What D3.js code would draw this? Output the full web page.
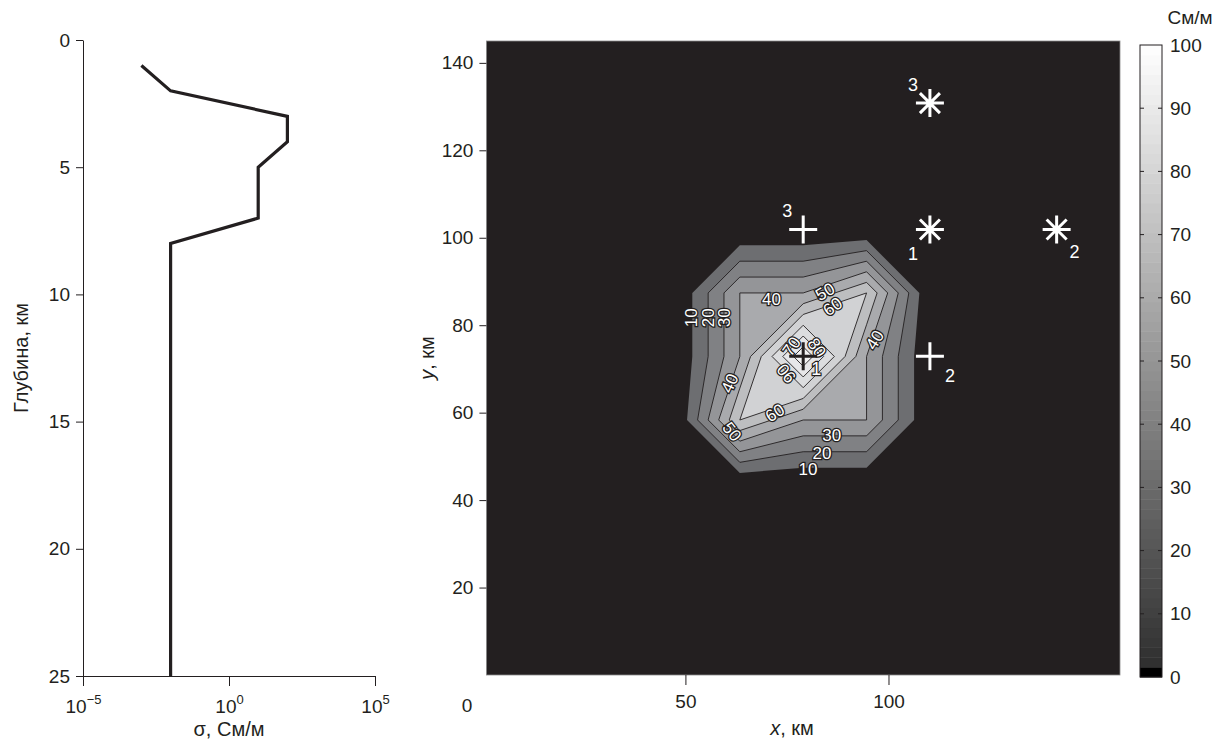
<!DOCTYPE html>
<html lang="ru">
<head>
<meta charset="UTF-8">
<title>Разрез и карта проводимости</title>
<script src="https://d3js.org/d3.v7.min.js"></script>
<style>
    body { margin: 0; background: #fff; }
    text { font-family: "Liberation Sans", Arial, sans-serif; fill: #231f20; }
    .tick line, .domain { stroke: #231f20; stroke-width: 1px; }
    .tick text { font-size: 19px; }
    .axis-title { font-size: 20px; }
    .clabel {
        font-size: 17px; fill: #fff; stroke: #231f20; stroke-width: 2.6px;
        paint-order: stroke; text-anchor: middle; dominant-baseline: central;
    }
    .mlabel { font-size: 18px; fill: #fff; text-anchor: middle; dominant-baseline: central; }
</style>
</head>
<body>
<svg width="1215" height="742"></svg>
<script>
// ---- left panel: conductivity profile ----
const depth = [1, 2, 3, 4, 5, 7, 8, 25]
const sigma = [1e-3, 1e-2, 1e2, 1e2, 1e1, 1e1, 1e-2, 1e-2]
const depthTicks = [0, 5, 10, 15, 20, 25]
const sigmaTickExp = [-5, 0, 5]

// ---- right panel: map grid (km) and values (См/м) ----
const gridX = [47.8, 63.4, 79.0, 94.6, 110.2]
const gridY = [101.9, 87.4, 72.9, 58.3, 43.8]
const gridValues = [
    [0, 0, 0, 0, 0],
    [0, 40, 40, 60, 0],
    [0, 40, 99, 40, 0],
    [0, 60, 40, 40, 0],
    [0, 0, 0, 0, 0]
]
const levels = [10, 20, 30, 40, 50, 60, 70, 80, 90]
const xTicks = [50, 100]
const yTicks = [20, 40, 60, 80, 100, 120, 140]
const barTicks = [0, 10, 20, 30, 40, 50, 60, 70, 80, 90, 100]

// contour labels: level, position (km), angle
const labelLevel = [10, 20, 30, 40, 50, 60, 70, 80, 90, 40, 40, 60, 50, 30, 20, 10]
const labelX = [51.6, 55.6, 59.5, 71.2, 84.4, 86.3, 76.2, 82.3, 74.9, 96.7, 61.0, 72.1, 61.4, 86.0, 83.6, 80.2]
const labelY = [81.7, 81.7, 81.7, 85.9, 87.6, 84.2, 75.1, 74.8, 69.0, 76.6, 66.7, 59.9, 55.6, 54.7, 50.7, 46.9]
const labelAngle = [-90, -90, -90, 0, -30, -35, -55, 55, -130, -58, -65, -32, 52, 0, 0, 0]

// receivers (+) and sources (*)
const crossX = [79.0, 110.2, 79.0]
const crossY = [72.9, 72.9, 101.9]
const crossName = ["1", "2", "3"]
const starX = [110.2, 141.4, 110.2]
const starY = [101.9, 101.9, 130.8]
const starName = ["1", "2", "3"]

// fill of each band: 10-20, 20-30, ... , 90+
const bandColor = ["#6d6e71", "#808184", "#949598", "#a9aaad", "#bdbec0", "#d1d2d4", "#dcdddf", "#e7e7e9", "#f2f2f3"]
const dark = "#231f20"

let svg = d3.select("svg")

// ================= left panel =================
let lx = d3.scaleLog().domain([1e-5, 1e5]).range([83, 375])
let ly = d3.scaleLinear().domain([0, 25]).range([40, 676])

let left = svg.append("g")

left.append("g")
    .attr("transform", "translate(83,0)")
    .call(d3.axisLeft(ly).tickValues(depthTicks).tickSize(7).tickSizeOuter(0).tickPadding(6))

let lxAxis = left.append("g")
    .attr("transform", "translate(0,676)")
    .call(d3.axisBottom(lx).tickValues(sigmaTickExp.map(e => Math.pow(10, e)))
        .tickSize(10).tickSizeOuter(0).tickFormat(""))

// 10^n labels with superscript
lxAxis.selectAll(".tick").each(function (d, i) {
    let t = d3.select(this).append("text")
        .attr("y", 37).attr("text-anchor", "middle")
        .style("font-size", "19px").style("fill", dark)
    t.append("tspan").text("10")
    t.append("tspan").attr("dy", -9).style("font-size", "13px")
        .text(sigmaTickExp[i] < 0 ? "\u2212" + (-sigmaTickExp[i]) : sigmaTickExp[i])
})

left.append("path")
    .datum(depth.map((d, i) => [sigma[i], d]))
    .attr("fill", "none")
    .attr("stroke", dark)
    .attr("stroke-width", 3.2)
    .attr("stroke-linejoin", "miter")
    .attr("d", d3.line().x(p => lx(p[0])).y(p => ly(p[1])))

left.append("text").attr("class", "axis-title")
    .attr("x", 229).attr("y", 736).attr("text-anchor", "middle")
    .text("\u03c3, См/м")
left.append("text").attr("class", "axis-title")
    .attr("transform", "translate(28,358) rotate(-90)").attr("text-anchor", "middle")
    .text("Глубина, км")

// ================= right panel =================
let x = d3.scaleLinear().domain([1, 157]).range([486.4, 1120])
let y = d3.scaleLinear().domain([0, 145]).range([675, 41])

let right = svg.append("g")

right.append("rect")
    .attr("x", x(1)).attr("y", y(145))
    .attr("width", x(157) - x(1)).attr("height", y(0) - y(145))
    .attr("fill", dark).attr("stroke", "#8a8a8a").attr("stroke-width", 0.8)

// grid index -> km -> px
let nx = gridX.length, ny = gridY.length
let gx = d3.scaleLinear().domain([0.5, nx - 0.5]).range([gridX[0], gridX[nx - 1]])
let gy = d3.scaleLinear().domain([0.5, ny - 0.5]).range([gridY[0], gridY[ny - 1]])
let proj = d3.geoTransform({
    point: function (px, py) { this.stream.point(x(gx(px)), y(gy(py))) }
})
let cpath = d3.geoPath(proj)

// d3.contours splits the "high" corners of a saddle cell; the map keeps them joined.
// So contour the negated field: the holes of {v <= t} are the regions v > t.
let negValues = gridValues.flat().map(v => -v)
let contours = d3.contours().size([nx, ny])
    .thresholds(levels.map(t => -(t - 0.01)))(negValues)
let areas = contours.map(c => ({
    level: Math.round(-c.value),
    type: "MultiPolygon",
    coordinates: c.coordinates.flatMap(poly => poly.slice(1).map(ring => [ring]))
})).sort((a, b) => a.level - b.level)

right.append("g").selectAll("path")
    .data(areas)
    .enter().append("path")
    .attr("d", cpath)
    .attr("fill", d => bandColor[levels.indexOf(d.level)])

// contour lines
right.append("g").selectAll("path")
    .data(areas.filter(d => d.level !== 10))
    .enter().append("path")
    .attr("d", cpath)
    .attr("fill", "none")
    .attr("stroke", dark)
    .attr("stroke-width", 0.9)
    .attr("stroke-linejoin", "round")

// contour labels
right.append("g").selectAll("text")
    .data(labelLevel)
    .enter().append("text")
    .attr("class", "clabel")
    .attr("transform", (d, i) => `translate(${x(labelX[i])},${y(labelY[i])}) rotate(${labelAngle[i]})`)
    .text(d => d)

// crosses
let crosses = right.append("g").selectAll("g")
    .data(crossName)
    .enter().append("g")
    .attr("transform", (d, i) => `translate(${x(crossX[i])},${y(crossY[i])})`)
crosses.append("path")
    .attr("d", "M-14,0H14M0,-14V14")
    .attr("stroke", (d, i) => i === 0 ? dark : "#fff")
    .attr("stroke-width", 3)
let crossOff = [[13, 13], [20, 20], [-16, -18]]
crosses.append("text")
    .attr("class", "mlabel")
    .attr("x", (d, i) => crossOff[i][0]).attr("y", (d, i) => crossOff[i][1])
    .style("stroke", (d, i) => i === 0 ? dark : "none")
    .style("stroke-width", 2.4).style("paint-order", "stroke")
    .text(d => d)

// asterisks
let stars = right.append("g").selectAll("g")
    .data(starName)
    .enter().append("g")
    .attr("transform", (d, i) => `translate(${x(starX[i])},${y(starY[i])})`)
stars.append("path")
    .attr("d", "M-14,0H14M0,-14V14M-10,-10L10,10M-10,10L10,-10")
    .attr("stroke", "#fff")
    .attr("stroke-width", 3)
let starOff = [[-17, 25], [18, 23], [-17, -18]]
stars.append("text")
    .attr("class", "mlabel")
    .attr("x", (d, i) => starOff[i][0]).attr("y", (d, i) => starOff[i][1])
    .text(d => d)

// axes
right.append("g")
    .attr("transform", `translate(${x(1)},0)`)
    .call(d3.axisLeft(y).tickValues(yTicks).tickSize(7).tickSizeOuter(0).tickPadding(6))
    .call(g => g.select(".domain").remove())
right.append("g")
    .attr("transform", `translate(0,${y(0)})`)
    .call(d3.axisBottom(x).tickValues(xTicks).tickSize(10).tickSizeOuter(0).tickPadding(10))
    .call(g => g.select(".domain").remove())
right.append("text")
    .attr("x", 467).attr("y", 712).attr("text-anchor", "middle")
    .style("font-size", "19px").text("0")

let xt = right.append("text").attr("class", "axis-title")
    .attr("x", 792).attr("y", 735).attr("text-anchor", "middle")
xt.append("tspan").style("font-style", "italic").text("x")
xt.append("tspan").text(", км")
let yt = right.append("text").attr("class", "axis-title")
    .attr("transform", "translate(434,358) rotate(-90)").attr("text-anchor", "middle")
yt.append("tspan").style("font-style", "italic").text("y")
yt.append("tspan").text(", км")

// ================= colorbar =================
let by = d3.scaleLinear().domain([0, 100]).range([677, 45])
let grey = d3.interpolateRgb("#2b2b2b", "#ffffff")
let nStripes = 64
let stripes = d3.range(nStripes).map(i => i * 100 / nStripes)
let bar = svg.append("g")
bar.selectAll("rect")
    .data(stripes)
    .enter().append("rect")
    .attr("x", 1140).attr("width", 22)
    .attr("y", d => by(d + 100 / nStripes))
    .attr("height", d => by(d) - by(d + 100 / nStripes) + 0.5)
    .attr("fill", d => d < 1.5 ? "#000" : grey((d + 50 / nStripes) / 100))
bar.append("rect")
    .attr("x", 1140).attr("y", by(100)).attr("width", 22).attr("height", by(0) - by(100))
    .attr("fill", "none").attr("stroke", dark).attr("stroke-width", 1)
bar.selectAll(".btick")
    .data(barTicks.slice(1, -1))
    .enter().append("path")
    .attr("class", "btick")
    .attr("d", d => `M1140,${by(d)}h4M1162,${by(d)}h-4`)
    .attr("stroke", dark)
bar.selectAll(".blabel")
    .data(barTicks)
    .enter().append("text")
    .attr("x", 1170).attr("y", d => by(d))
    .attr("dominant-baseline", "central")
    .style("font-size", "19px")
    .text(d => d)
bar.append("text")
    .attr("x", 1190).attr("y", 24).attr("text-anchor", "middle")
    .style("font-size", "19px")
    .text("См/м")
</script>
</body>
</html>
